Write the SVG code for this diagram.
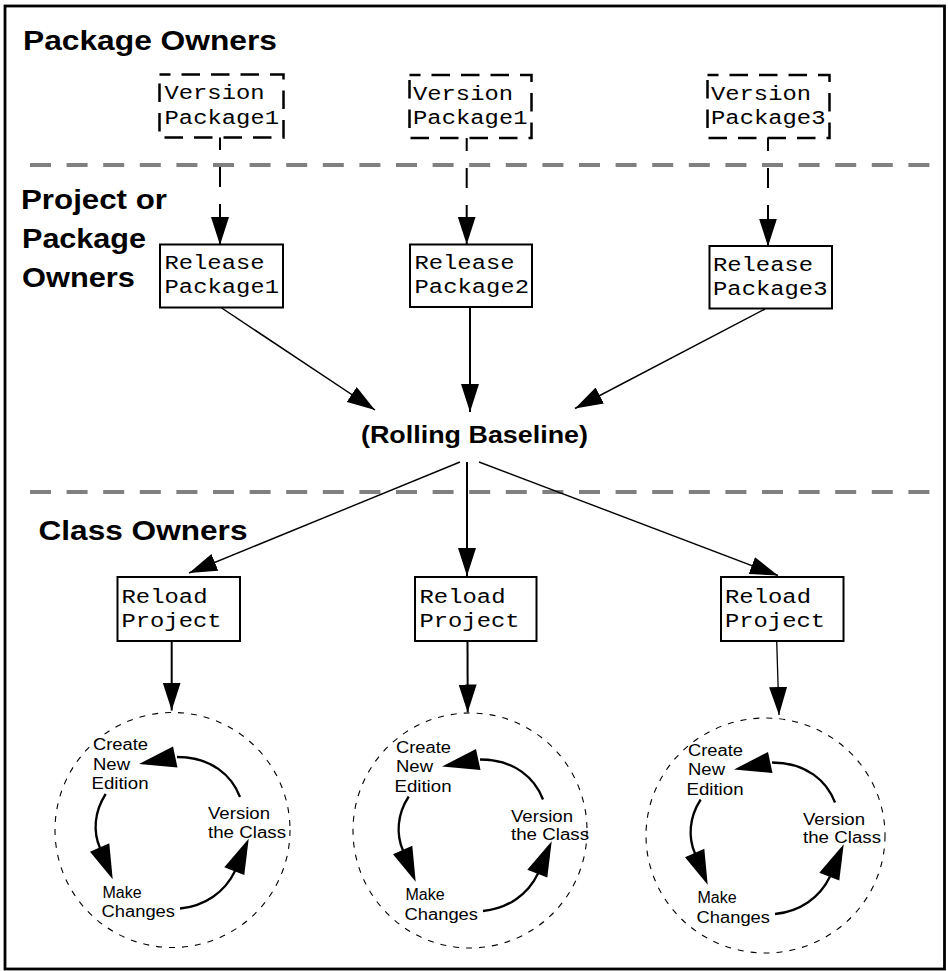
<svg xmlns="http://www.w3.org/2000/svg" width="948" height="971" viewBox="0 0 948 971">
  <style>
    .lane { font-family: "Liberation Sans", Arial, Helvetica, sans-serif; font-weight: bold; font-size: 27px; fill: #000; }
    .hub { font-family: "Liberation Sans", Arial, Helvetica, sans-serif; font-weight: bold; font-size: 23px; fill: #000; }
    .mono { font-family: "Liberation Mono", "Courier New", monospace; font-size: 20px; fill: #000; }
    .step { font-family: "Liberation Sans", Arial, Helvetica, sans-serif; font-size: 16px; fill: #000; }
    .box { fill: #fff; stroke: #000; stroke-width: 2; }
    .dbox { fill: #fff; stroke: #000; stroke-width: 2.5; stroke-dasharray: 18.5 11; stroke-dashoffset: 7.5; }
    .sep { stroke: #808080; stroke-width: 4; stroke-dasharray: 21 15.6; fill: none; }
    .flow { stroke: #000; fill: none; }
    .dflow { stroke: #000; stroke-width: 2; stroke-dasharray: 20 17; stroke-dashoffset: 7; fill: none; }
    .ring { fill: none; stroke: #000; stroke-width: 1.1; stroke-dasharray: 6 7; }
    .loop { fill: none; stroke: #000; stroke-width: 2.3; }
    .head { fill: #000; stroke: none; }
  </style>
  <defs>
    <marker id="arrow" markerUnits="userSpaceOnUse" markerWidth="28" markerHeight="18" refX="28" refY="9" orient="auto">
      <path d="M0,0 L28,9 L0,18 z" fill="#000"/>
    </marker>
  </defs>

  <!-- frame -->
  <rect x="5" y="6" width="939.5" height="963" fill="#fff" stroke="#000" stroke-width="2.8"/>

  <!-- swimlane separators and lane titles -->
  <g id="lanes">
    <line class="sep" x1="30" y1="165" x2="933" y2="165"/>
    <line class="sep" x1="30" y1="492" x2="933" y2="492"/>
    <text class="lane" x="23" y="50" textLength="254" lengthAdjust="spacingAndGlyphs">Package Owners</text>
    <text class="lane" x="21" y="209" textLength="146" lengthAdjust="spacingAndGlyphs">Project or</text>
    <text class="lane" x="22" y="247.5" textLength="124" lengthAdjust="spacingAndGlyphs">Package</text>
    <text class="lane" x="22" y="287" textLength="113" lengthAdjust="spacingAndGlyphs">Owners</text>
    <text class="lane" x="38.5" y="539.5" textLength="209" lengthAdjust="spacingAndGlyphs">Class Owners</text>
  </g>

  <!-- connectors -->
  <g id="connectors">
    <line class="dflow" x1="220" y1="137" x2="220" y2="245" marker-end="url(#arrow)"/>
    <line class="dflow" x1="466.7" y1="138" x2="466.7" y2="244.5" marker-end="url(#arrow)"/>
    <line class="dflow" x1="768" y1="138" x2="768" y2="246.5" marker-end="url(#arrow)"/>

    <line class="flow" stroke-width="1.5" x1="221.7" y1="308" x2="375" y2="410" marker-end="url(#arrow)"/>
    <line class="flow" stroke-width="2" x1="470" y1="307" x2="470" y2="412" marker-end="url(#arrow)"/>
    <line class="flow" stroke-width="1.5" x1="765" y1="309" x2="575" y2="408.5" marker-end="url(#arrow)"/>

    <line class="flow" stroke-width="1.4" x1="460" y1="462" x2="189" y2="573" marker-end="url(#arrow)"/>
    <line class="flow" stroke-width="2" x1="467" y1="462" x2="467" y2="576" marker-end="url(#arrow)"/>
    <line class="flow" stroke-width="1.4" x1="479" y1="462" x2="778" y2="575.5" marker-end="url(#arrow)"/>

    <line class="flow" stroke-width="2" x1="171.7" y1="641" x2="171.7" y2="710.5" marker-end="url(#arrow)"/>
    <line class="flow" stroke-width="2" x1="467.5" y1="641" x2="467.7" y2="712.5" marker-end="url(#arrow)"/>
    <line class="flow" stroke-width="1.3" x1="776.7" y1="641" x2="779" y2="715" marker-end="url(#arrow)"/>
  </g>

  <!-- package owners -->
  <g id="version-package1-a">
    <rect class="dbox" x="159.5" y="74.5" width="124" height="63"/>
    <text class="mono" x="164.5" y="99" textLength="100" lengthAdjust="spacingAndGlyphs">Version</text>
    <text class="mono" x="164.5" y="123.5" textLength="114.5" lengthAdjust="spacingAndGlyphs">Package1</text>
  </g>
  <g id="version-package1-b">
    <rect class="dbox" x="409.5" y="75" width="122" height="63"/>
    <text class="mono" x="413" y="99.5" textLength="100" lengthAdjust="spacingAndGlyphs">Version</text>
    <text class="mono" x="413" y="124" textLength="114.5" lengthAdjust="spacingAndGlyphs">Package1</text>
  </g>
  <g id="version-package3">
    <rect class="dbox" x="707.5" y="75" width="122" height="63"/>
    <text class="mono" x="711" y="99.5" textLength="100" lengthAdjust="spacingAndGlyphs">Version</text>
    <text class="mono" x="711" y="124" textLength="114.5" lengthAdjust="spacingAndGlyphs">Package3</text>
  </g>

  <!-- project or package owners -->
  <g id="release-package1">
    <rect class="box" x="160" y="244.5" width="123" height="63"/>
    <text class="mono" x="164.5" y="269" textLength="100" lengthAdjust="spacingAndGlyphs">Release</text>
    <text class="mono" x="164.5" y="293" textLength="114.5" lengthAdjust="spacingAndGlyphs">Package1</text>
  </g>
  <g id="release-package2">
    <rect class="box" x="410" y="244.5" width="122" height="62.5"/>
    <text class="mono" x="414.5" y="268.5" textLength="100" lengthAdjust="spacingAndGlyphs">Release</text>
    <text class="mono" x="414.5" y="293" textLength="114.5" lengthAdjust="spacingAndGlyphs">Package2</text>
  </g>
  <g id="release-package3">
    <rect class="box" x="709.5" y="246" width="122.5" height="62.5"/>
    <text class="mono" x="713" y="270.5" textLength="100" lengthAdjust="spacingAndGlyphs">Release</text>
    <text class="mono" x="713" y="295" textLength="114.5" lengthAdjust="spacingAndGlyphs">Package3</text>
  </g>

  <g id="rolling-baseline">
    <text class="hub" x="361" y="443" textLength="227" lengthAdjust="spacingAndGlyphs">(Rolling Baseline)</text>
  </g>

  <!-- class owners -->
  <g id="reload-project-1">
    <rect class="box" x="117.5" y="577" width="122.5" height="64"/>
    <text class="mono" x="121.5" y="602.5" textLength="86" lengthAdjust="spacingAndGlyphs">Reload</text>
    <text class="mono" x="121.5" y="626.5" textLength="100" lengthAdjust="spacingAndGlyphs">Project</text>
  </g>
  <g id="reload-project-2">
    <rect class="box" x="415" y="577" width="121.5" height="64"/>
    <text class="mono" x="419.5" y="602.5" textLength="86" lengthAdjust="spacingAndGlyphs">Reload</text>
    <text class="mono" x="419.5" y="626.5" textLength="100" lengthAdjust="spacingAndGlyphs">Project</text>
  </g>
  <g id="reload-project-3">
    <rect class="box" x="721" y="577" width="122.5" height="64"/>
    <text class="mono" x="725" y="602.5" textLength="86" lengthAdjust="spacingAndGlyphs">Reload</text>
    <text class="mono" x="725" y="626.5" textLength="100" lengthAdjust="spacingAndGlyphs">Project</text>
  </g>

  <!-- edit cycles -->
  <g id="cycle-1">
    <ellipse class="ring" cx="172.5" cy="830" rx="117.5" ry="117.5"/>
    <g>
      <text class="step" x="93" y="750" textLength="55" lengthAdjust="spacingAndGlyphs">Create</text>
      <text class="step" x="93" y="769.5" textLength="37" lengthAdjust="spacingAndGlyphs">New</text>
      <text class="step" x="91.5" y="789" textLength="57" lengthAdjust="spacingAndGlyphs">Edition</text>
      <text class="step" x="208" y="819" textLength="62" lengthAdjust="spacingAndGlyphs">Version</text>
      <text class="step" x="208" y="837.5" textLength="78" lengthAdjust="spacingAndGlyphs">the Class</text>
      <text class="step" x="102.5" y="897.5">Make</text>
      <text class="step" x="101.5" y="917" textLength="73.5" lengthAdjust="spacingAndGlyphs">Changes</text>
      <path class="loop" d="M240,797 C232,776 212,757 177,757"/>
      <polygon class="head" points="139,764 173,746.5 177.5,767.5"/>
      <path class="loop" d="M105.7,794 C94,812 93,832 100,848"/>
      <polygon class="head" points="90,851.7 109.3,843.3 112.7,879.3"/>
      <path class="loop" d="M180,908.5 C205,906 225,892 235,871"/>
      <polygon class="head" points="224.3,867.3 244.3,875 248.7,838.7"/>
    </g>
  </g>
  <g id="cycle-2">
    <ellipse class="ring" cx="470" cy="830.5" rx="117" ry="117.5"/>
    <g transform="translate(303,2.5)">
      <text class="step" x="93" y="750" textLength="55" lengthAdjust="spacingAndGlyphs">Create</text>
      <text class="step" x="93" y="769.5" textLength="37" lengthAdjust="spacingAndGlyphs">New</text>
      <text class="step" x="91.5" y="789" textLength="57" lengthAdjust="spacingAndGlyphs">Edition</text>
      <text class="step" x="208" y="819" textLength="62" lengthAdjust="spacingAndGlyphs">Version</text>
      <text class="step" x="208" y="837.5" textLength="78" lengthAdjust="spacingAndGlyphs">the Class</text>
      <text class="step" x="102.5" y="897.5">Make</text>
      <text class="step" x="101.5" y="917" textLength="73.5" lengthAdjust="spacingAndGlyphs">Changes</text>
      <path class="loop" d="M240,797 C232,776 212,757 177,757"/>
      <polygon class="head" points="139,764 173,746.5 177.5,767.5"/>
      <path class="loop" d="M105.7,794 C94,812 93,832 100,848"/>
      <polygon class="head" points="90,851.7 109.3,843.3 112.7,879.3"/>
      <path class="loop" d="M180,908.5 C205,906 225,892 235,871"/>
      <polygon class="head" points="224.3,867.3 244.3,875 248.7,838.7"/>
    </g>
  </g>
  <g id="cycle-3">
    <ellipse class="ring" cx="765.5" cy="835.5" rx="119.5" ry="117.5"/>
    <g transform="translate(595,5.5)">
      <text class="step" x="93" y="750" textLength="55" lengthAdjust="spacingAndGlyphs">Create</text>
      <text class="step" x="93" y="769.5" textLength="37" lengthAdjust="spacingAndGlyphs">New</text>
      <text class="step" x="91.5" y="789" textLength="57" lengthAdjust="spacingAndGlyphs">Edition</text>
      <text class="step" x="208" y="819" textLength="62" lengthAdjust="spacingAndGlyphs">Version</text>
      <text class="step" x="208" y="837.5" textLength="78" lengthAdjust="spacingAndGlyphs">the Class</text>
      <text class="step" x="102.5" y="897.5">Make</text>
      <text class="step" x="101.5" y="917" textLength="73.5" lengthAdjust="spacingAndGlyphs">Changes</text>
      <path class="loop" d="M240,797 C232,776 212,757 177,757"/>
      <polygon class="head" points="139,764 173,746.5 177.5,767.5"/>
      <path class="loop" d="M105.7,794 C94,812 93,832 100,848"/>
      <polygon class="head" points="90,851.7 109.3,843.3 112.7,879.3"/>
      <path class="loop" d="M180,908.5 C205,906 225,892 235,871"/>
      <polygon class="head" points="224.3,867.3 244.3,875 248.7,838.7"/>
    </g>
  </g>
</svg>
